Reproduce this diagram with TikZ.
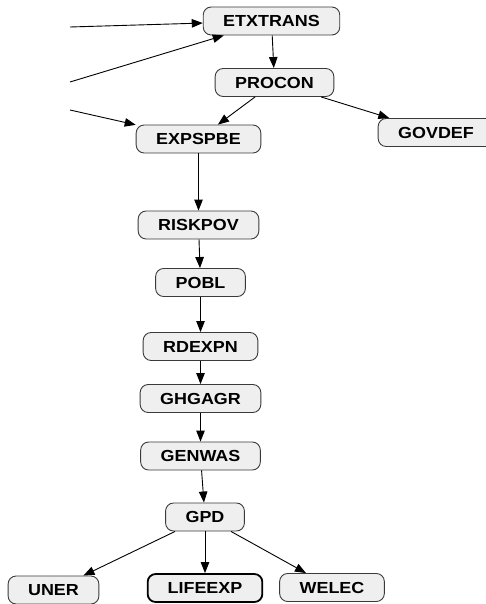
\documentclass[tikz,border=0pt]{standalone}
\usepackage{fontspec}
\setmainfont{Liberation Sans}[FakeStretch=1.12]
\usepackage{tikz}
\usetikzlibrary{arrows.meta, positioning}

\definecolor{boxfill}{HTML}{EFEFEF}
\definecolor{boxline}{HTML}{3A3A3A}

\tikzset{
	var/.style={draw=boxline, fill=boxfill, rounded corners=8pt, line width=0.9pt,
		inner xsep=20pt, inner ysep=0pt, minimum height=28pt,
		font=\fontsize{16}{19}\selectfont\bfseries},
	target/.style={var, draw=black, line width=1.8pt},
}

\begin{document}
\begin{tikzpicture}[x=1pt,y=-1pt,on grid,>={Triangle[length=11pt,width=8.5pt]}]
	\useasboundingbox (0,0) rectangle (486,604);
	
	\node (etxtrans) [var] at (271.5,21) {ETXTRANS};
	\node (procon) [var, below right=61.5pt and 3pt of etxtrans] {PROCON};
	\node (expspbe) [var, below left=56.5pt and 76pt of procon] {EXPSPBE};
	\node (govdef) [var, below right=50pt and 161.5pt of procon] {GOVDEF};
	\node (riskpov) [var, below=86pt of expspbe] {RISKPOV};
	\node (pobl) [var, below right=57.5pt and 2pt of riskpov] {POBL};
	\node (rdexpn) [var, below=64pt of pobl] {RDEXPN};
	\node (ghgagr) [var, below=52pt of rdexpn] {GHGAGR};
	\node (genwas) [var, below=57.5pt of ghgagr] {GENWAS};
	\node (gpd) [var, below right=61pt and 4.5pt of genwas] {GPD};
	\node (lifeexp) [target, below=71pt of gpd] {LIFEEXP};
	\node (uner) [var, below left=73pt and 151.5pt of gpd] {UNER};
	\node (welec) [var, below right=70.5pt and 127pt of gpd] {WELEC};
	
	% arrows coming in from the left
	\coordinate (in1) at (70,27);
	\coordinate (in2) at (70,82);
	\coordinate (in3) at (70,110);
	
	\path [->, line width=0.9pt, color=black]
	(in1) edge (etxtrans)
	(in2) edge (etxtrans)
	(in3) edge (expspbe)
	
	(etxtrans) edge (procon)
	(procon) edge (expspbe)
	(procon) edge (govdef)
	
	(expspbe) edge (riskpov)
	(riskpov) edge (pobl)
	(pobl) edge (rdexpn)
	(rdexpn) edge (ghgagr)
	(ghgagr) edge (genwas)
	(genwas) edge (gpd)
	
	(gpd) edge (uner)
	(gpd) edge (lifeexp)
	(gpd) edge (welec);
\end{tikzpicture}
\end{document}
